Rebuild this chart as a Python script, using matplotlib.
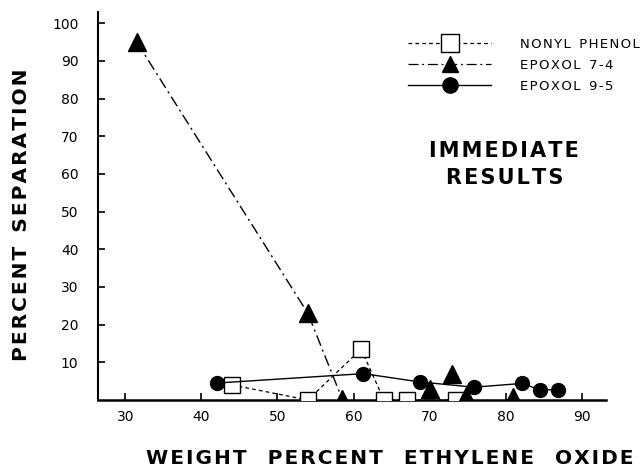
import matplotlib
matplotlib.use("Agg")
import matplotlib.pyplot as plt

# Weight percent ethylene oxide vs. percent separation (immediate results)
nonyl_x = [44, 54, 61, 64, 67, 73.5]
nonyl_y = [4, 0, 13.5, 0, 0, 0]

ep74_x = [31.5, 54, 58.5, 70, 73, 74.8, 81]
ep74_y = [95, 23, 0.3, 3, 7, 1, 0.8]

ep95_x = [42, 61.3, 68.7, 75.8, 82.2, 84.5, 86.9]
ep95_y = [4.5, 7, 4.8, 3.4, 4.4, 2.7, 2.7]

x_ticks = [30, 40, 50, 60, 70, 80, 90]
y_ticks = [10, 20, 30, 40, 50, 60, 70, 80, 90, 100]

series_names = ['NONYL PHENOL', 'EPOXOL 7-4', 'EPOXOL 9-5']
x_title = 'WEIGHT PERCENT ETHYLENE OXIDE'
y_title = 'PERCENT SEPARATION'
note = ['IMMEDIATE', 'RESULTS']

plt.rcParams['font.family'] = ['DejaVu Sans']

W, H = 644, 468


def spaced(s, gap='\u200a', word='  '):
    """Open up letter spacing the way stencil lettering does."""
    return word.join(gap.join(w) for w in s.split(' '))


def fx(px):
    return px / W


def fy(py):
    return 1 - py / H


fig = plt.figure(figsize=(6.44, 4.68), dpi=100)
ax = fig.add_axes([fx(98), fy(400), 508 / W, 388 / H])

DASH = (0, (3, 2.5))
DASHDOT = (0, (8, 3, 1.5, 3))

# Nonyl phenol: open squares, short dashes
ax.plot(nonyl_x, nonyl_y, linestyle=DASH, color='black', lw=0.9,
        marker='s', markersize=11, markerfacecolor='white',
        markeredgecolor='black', markeredgewidth=1.0, zorder=3)

# Epoxol 7-4: filled triangles, dash-dot line through the first three points
ax.plot(ep74_x[:3], ep74_y[:3], linestyle=DASHDOT, color='black',
        lw=1.0, zorder=2)
ax.plot(ep74_x, ep74_y, linestyle='none', marker='^', markersize=12.5,
        color='black', zorder=4)

# Epoxol 9-5: filled circles, solid line
ax.plot(ep95_x, ep95_y, linestyle='-', color='black', lw=1.0,
        marker='o', markersize=10, zorder=4)

ax.set_xlim(26.4, 93.2)
ax.set_ylim(0, 103)

ax.spines['top'].set_visible(False)
ax.spines['right'].set_visible(False)
ax.spines['left'].set_linewidth(1.5)
ax.spines['bottom'].set_linewidth(1.8)

ax.set_xticks(x_ticks)
ax.set_xticklabels([str(v) for v in x_ticks])
ax.set_yticks(y_ticks)
ax.set_yticklabels([str(v) for v in y_ticks])
ax.tick_params(axis='both', direction='in', length=5, width=1.2, labelsize=10)
ax.tick_params(axis='y', pad=14)
ax.tick_params(axis='x', pad=7)

# Axis titles
fig.text(fx(390), fy(459), spaced(x_title, word='   '), fontsize=14.5,
         fontweight='bold', ha='center', va='center')
fig.text(fx(22), fy(215), spaced(y_title, word='  '), fontsize=14.5,
         fontweight='bold', ha='center', va='center', rotation=90)

# Legend built from proxy handles
h1, = ax.plot([], [], linestyle=DASH, color='black', lw=0.9,
              marker='s', markersize=13, markerfacecolor='white',
              markeredgecolor='black')
h2, = ax.plot([], [], linestyle=DASHDOT, color='black', lw=0.9,
              marker='^', markersize=12)
h3, = ax.plot([], [], linestyle='-', color='black', lw=1.0,
              marker='o', markersize=11)
fig.legend([h1, h2, h3], [spaced(s) for s in series_names],
           loc='upper right', bbox_to_anchor=(fx(640), fy(38)), frameon=False,
           fontsize=9.5, handlelength=6.3, handletextpad=2.2,
           labelspacing=0.6, borderaxespad=0, borderpad=0)

# Annotation in the plotting area
fig.text(fx(504), fy(151), spaced(note[0]), fontsize=15, fontweight='bold',
         ha='center', va='center')
fig.text(fx(505), fy(178), spaced(note[1]), fontsize=15, fontweight='bold',
         ha='center', va='center')

fig.savefig('out.png', dpi=100)
